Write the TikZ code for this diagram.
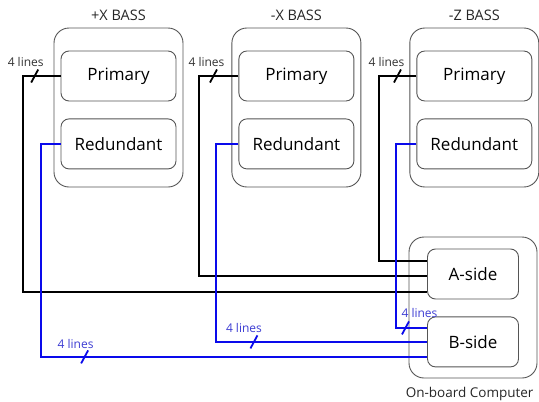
\documentclass[tikz,border=0pt]{standalone}
\usepackage{fontspec}
\setmainfont{Open Sans}
\usetikzlibrary{positioning,calc}
\definecolor{wireblue}{RGB}{10,10,235}
\definecolor{lblblue}{RGB}{60,60,210}
\definecolor{boxgray}{RGB}{85,85,85}

\begin{document}
\begin{tikzpicture}[
  x=1pt,y=-1pt,
  node distance=17pt and 48pt,
  unit/.style={rectangle,draw=boxgray,line width=0.9pt,rounded corners=15pt,
               minimum width=129pt,minimum height=159pt},
  obc/.style={rectangle,draw=boxgray,line width=0.9pt,rounded corners=15pt,
              minimum width=128pt,minimum height=141pt},
  side/.style={rectangle,draw=boxgray,line width=0.9pt,rounded corners=8pt,
               minimum width=115pt,minimum height=50pt,font=\fontsize{17}{20}\selectfont},
  half/.style={side,minimum width=91pt},
  title/.style={font=\fontsize{14.5}{17}\selectfont,text=black!85},
  wire/.style={line width=2pt,black},
  bwire/.style={line width=2pt,wireblue},
  nlbl/.style={font=\fontsize{12}{14}\selectfont,text=black!80},
  blbl/.style={nlbl,text=lblblue},
  slash/.pic={\draw[line width=1.8pt] (-3.5,6.5) -- (3.5,-6.5);}
]
  \useasboundingbox (0,0) rectangle (539,402);

  % sensor units
  \node[unit] (px) at (118.5,107.5) {};
  \node[unit,right=of px] (mx) {};
  \node[unit,right=of mx] (mz) {};
  \node[title,above=3pt of px] (tpx) {+X BASS};
  \node[title,above=3pt of mx] (tmx) {-X BASS};
  \node[title,above=3pt of mz] (tmz) {-Z BASS};

  \node[side,below=23pt of px.north] (pxp) {Primary};
  \node[side,below=of pxp] (pxr) {Redundant};
  \node[side,below=23pt of mx.north] (mxp) {Primary};
  \node[side,below=of mxp] (mxr) {Redundant};
  \node[side,below=23pt of mz.north] (mzp) {Primary};
  \node[side,below=of mzp] (mzr) {Redundant};

  % computer
  \node[obc] (obc) at (473,307.5) {};
  \node[half,below=12pt of obc.north] (aside) {A-side};
  \node[half,below=of aside] (bside) {B-side};
  \node[title,font=\fontsize{13.5}{16}\selectfont,anchor=north west,inner sep=0pt]
    (tobc) at ($(obc.south west)+(-3,9)$) {On-board Computer};

  % primary harness
  \draw[wire] (pxp.west) -- pic[pos=.68]{slash}
    node[nlbl,pos=.68,xshift=-9pt,yshift=14pt] (lpx) {4 lines}
    ++(-38,0) |- ($(aside.west)+(0,18)$);
  \draw[wire] (mxp.west) -- pic[pos=.64]{slash}
    node[nlbl,pos=.64,xshift=-7pt,yshift=14pt] (lmx) {4 lines}
    ++(-39,0) |- ($(aside.west)+(0,2)$);
  \draw[wire] (mzp.west) -- pic[pos=.51]{slash}
    node[nlbl,pos=.51,xshift=-11pt,yshift=14pt] (lmz) {4 lines}
    ++(-37,0) |- ($(aside.west)+(0,-13)$);

  % redundant harness
  \draw[bwire] (pxr.west) -- ++(-20,0) |- pic[pos=.557,color=wireblue]{slash}
    node[blbl,pos=.557,xshift=-9pt,yshift=13pt] (lpxr) {4 lines}
    ($(bside.west)+(0,15)$);
  \draw[bwire] (mxr.west) -- ++(-22,0) |- pic[pos=.589,color=wireblue]{slash}
    node[blbl,pos=.589,xshift=-10pt,yshift=14pt] (lmxr) {4 lines}
    (bside.west);
  \draw[bwire] (mzr.west) -- ++(-20,0) |- pic[pos=.649,color=wireblue]{slash}
    node[blbl,pos=.649,xshift=14pt,yshift=15pt] (lmzr) {4 lines}
    ($(bside.west)+(0,-14)$);
\end{tikzpicture}
\end{document}
